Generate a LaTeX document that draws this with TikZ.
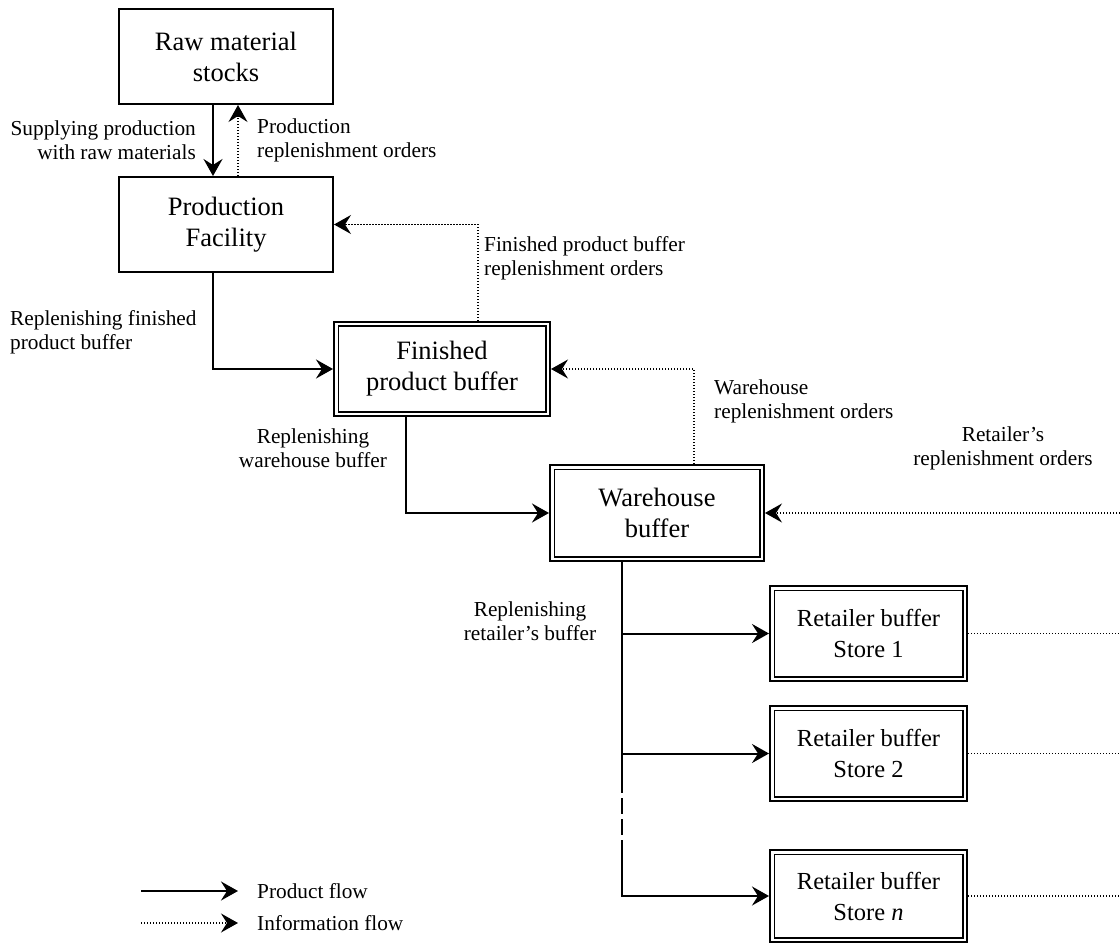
\documentclass[tikz,border=0pt]{standalone}
\usepackage{fontspec}
\setmainfont{Liberation Serif}
\usetikzlibrary{arrows.meta}
\tikzset{
  boxfont/.style={font=\fontsize{26.5}{31}\selectfont},
  lblfont/.style={font=\fontsize{21.3}{24}\selectfont},
  sbox/.style={draw, line width=2pt, inner sep=0pt, align=center, boxfont,
    minimum width=214pt, minimum height=95pt},
  dbox/.style={draw, line width=1.9pt, double, double distance=2.6pt, outer sep=3.2pt,
    inner sep=0pt, align=center, boxfont},
  lbl/.style={inner sep=0pt, lblfont},
  tip/.style={-{Stealth[length=17pt, width=19pt, inset=6pt]}},
  pflow/.style={tip, line width=2pt},
  iflow/.style={tip, line width=1.2pt, dash pattern=on 1.2pt off 1.8pt},
  idot/.style={line width=1.2pt, dash pattern=on 1.2pt off 1.8pt},
  plain/.style={line width=2pt}
}
\begin{document}
\begin{tikzpicture}[x=1pt,y=-1pt]
\useasboundingbox (0,0) rectangle (1120,944);
% boxes
\node[sbox] (raw) at (226,56.5) {Raw material\\stocks};
\node[sbox] (prod) at (226,224.5) {Production\\Facility};
\node[dbox, minimum width=211.6pt, minimum height=89.6pt] (fpb) at (442,369) {Finished\\product buffer};
\node[dbox, minimum width=209.6pt, minimum height=91.6pt] (wh) at (657,513) {Warehouse\\buffer};
\node[dbox, minimum width=192.6pt, minimum height=90.6pt, font=\fontsize{24.5}{31}\selectfont] (s1) at (868.5,633.5) {Retailer buffer\\Store 1};
\node[dbox, minimum width=192.6pt, minimum height=90.6pt, font=\fontsize{24.5}{31}\selectfont] (s2) at (868.5,753.5) {Retailer buffer\\Store 2};
\node[dbox, minimum width=192.6pt, minimum height=87.6pt, font=\fontsize{24.5}{31}\selectfont] (sn) at (868.5,896) {Retailer buffer\\Store \textit{n}};
% right edge coordinate
\coordinate (e0) at (1120,513);
% connectors
\draw[pflow] ([xshift=-13pt]raw.south) -- ([xshift=-13pt]prod.north);
\draw[iflow] ([xshift=12pt]prod.north) -- ([xshift=12pt]raw.south);
\draw[iflow] ([xshift=36pt]fpb.north) |- (prod.east);
\draw[pflow] ([xshift=-13pt]prod.south) |- (fpb.west);
\draw[iflow] ([xshift=37pt]wh.north) |- (fpb.east);
\draw[pflow] ([xshift=-36pt]fpb.south) |- (wh.west);
\draw[iflow] (e0) -- (wh.east);
% warehouse to stores
\coordinate (v0) at ([xshift=-35pt]wh.south);
\coordinate (v1) at (v0 |- 0,793);
\coordinate (v2) at (v0 |- 0,798);
\coordinate (v3) at (v0 |- 0,835);
\coordinate (v4) at (v0 |- 0,840);
\draw[plain] (v0) -- (v1);
\draw[plain, dash pattern=on 16pt off 5pt] (v2) -- (v3);
\draw[plain] (v4) |- ([xshift=-19pt]sn.west);
\draw[pflow] (v0 |- s1.west) -- (s1.west);
\draw[pflow] (v0 |- s2.west) -- (s2.west);
\draw[pflow] (v0 |- sn.west) -- (sn.west);
\draw[idot] (s1.east) -- (s1.east -| e0);
\draw[idot] (s2.east) -- (s2.east -| e0);
\draw[idot] (sn.east) -- (sn.east -| e0);
% labels
\node[lbl, anchor=east, align=right] (l1) at (196,140) {Supplying production\\with raw materials};
\node[lbl, anchor=west, align=left] (l2) at (257,140) {Production\\replenishment orders};
\node[lbl, anchor=west, align=left] (l3) at (484,258) {Finished product buffer\\replenishment orders};
\node[lbl, anchor=west, align=left] (l4) at (10,332) {Replenishing finished\\product buffer};
\node[lbl, anchor=west, align=left] (l5) at (714,401.5) {Warehouse\\replenishment orders};
\node[lbl, align=center] (l6) at (313,448) {Replenishing\\warehouse buffer};
\node[lbl, align=center] (l7) at (1003,448) {Retailer's\\replenishment orders};
\node[lbl, align=center] (l8) at (530,621) {Replenishing\\retailer's buffer};
% legend
\coordinate (la) at (141,891);
\coordinate (lb) at (238,891);
\coordinate (lc) at (141,923);
\coordinate (ld) at (238,923);
\draw[pflow] (la) -- (lb);
\draw[iflow] (lc) -- (ld);
\node[lbl, anchor=west] (lg1) at (257,891) {Product flow};
\node[lbl, anchor=west] (lg2) at (257,923) {Information flow};
\end{tikzpicture}
\end{document}
